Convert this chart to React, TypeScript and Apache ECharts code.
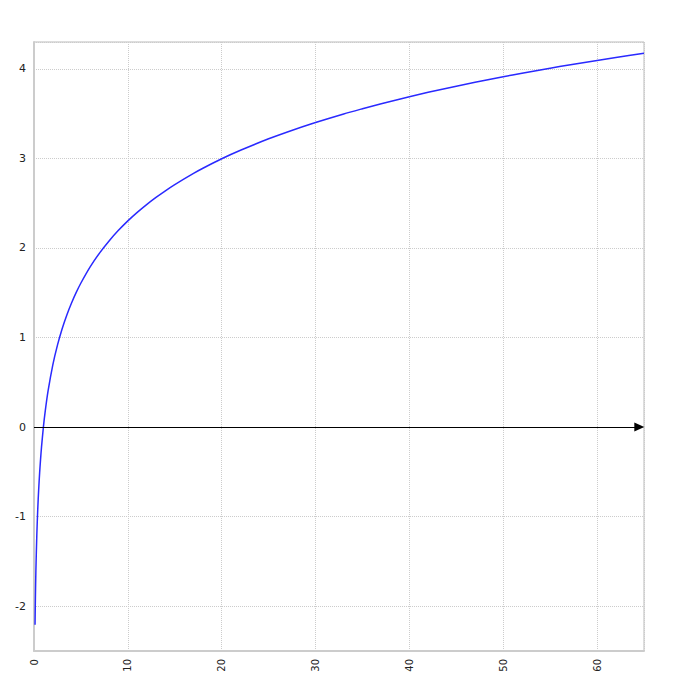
import React, { useEffect, useRef } from "react";
import * as echarts from "echarts";

const xValues = [0.11, 0.15, 0.2, 0.3, 0.4, 0.5, 0.6, 0.7, 0.8, 1, 1.2, 1.5, 2, 2.5, 3, 3.5, 4, 4.5, 5, 6, 7, 8, 9, 10, 11, 12, 13, 14, 15, 17, 18, 20, 22, 25, 27, 30, 33, 35, 37, 40, 42, 45, 47, 50, 52, 55, 57, 60, 62, 65];
const yValues = [-2.207, -1.897, -1.609, -1.204, -0.916, -0.693, -0.511, -0.357, -0.223, 0, 0.182, 0.405, 0.693, 0.916, 1.099, 1.253, 1.386, 1.504, 1.609, 1.792, 1.946, 2.079, 2.197, 2.303, 2.398, 2.485, 2.565, 2.639, 2.708, 2.833, 2.89, 2.996, 3.091, 3.219, 3.296, 3.401, 3.497, 3.555, 3.611, 3.689, 3.738, 3.807, 3.85, 3.912, 3.951, 4.007, 4.043, 4.094, 4.127, 4.174];

const arrowStart = [0, 0];
const arrowEnd = [64.5, 0];

export default function App() {
  const ref = useRef<HTMLDivElement>(null);
  useEffect(() => {
    const chart = echarts.init(ref.current!, null, { renderer: "svg" });
    const font = "DejaVu Sans";
    chart.setOption({
      animation: false,
      backgroundColor: "#fff",
      grid: {
        left: 34,
        top: 42,
        right: 45,
        bottom: 42,
        show: true,
        borderColor: "#bbb",
        borderWidth: 1,
      },
      xAxis: {
        type: "value",
        min: 0,
        max: 65,
        interval: 10,
        axisLine: { onZero: false, lineStyle: { color: "#ccc", width: 2 } },
        axisTick: { show: false },
        splitLine: { lineStyle: { color: "#ccc", type: "dotted" } },
        axisLabel: {
          rotate: 90,
          margin: 8,
          color: "#222",
          fontFamily: font,
          fontSize: 10,
          showMaxLabel: false,
        },
      },
      yAxis: {
        type: "value",
        min: -2.5,
        max: 4.3,
        axisLine: { show: true, onZero: false, lineStyle: { color: "#ccc", width: 2 } },
        axisTick: { show: false },
        splitLine: { lineStyle: { color: "#ccc", type: "dotted" } },
        axisLabel: {
          margin: 8,
          color: "#222",
          fontFamily: font,
          fontSize: 11,
          showMinLabel: false,
          showMaxLabel: false,
        },
      },
      series: [
        {
          type: "line",
          data: xValues.map((x, i) => [x, yValues[i]]),
          smooth: 0.25,
          showSymbol: false,
          lineStyle: { color: "#2a2aff", width: 1.5 },
          markLine: {
            silent: true,
            symbol: ["none", "triangle"],
            symbolSize: [9, 10],
            label: { show: false },
            lineStyle: { color: "#000", width: 1, type: "solid" },
            data: [[{ coord: arrowStart }, { coord: arrowEnd }]],
          },
        },
      ],
    });
    return () => chart.dispose();
  }, []);
  return (
    <div
      ref={ref}
      style={{ position: "absolute", left: 0, top: 0, width: 689, height: 693 }}
    />
  );
}
